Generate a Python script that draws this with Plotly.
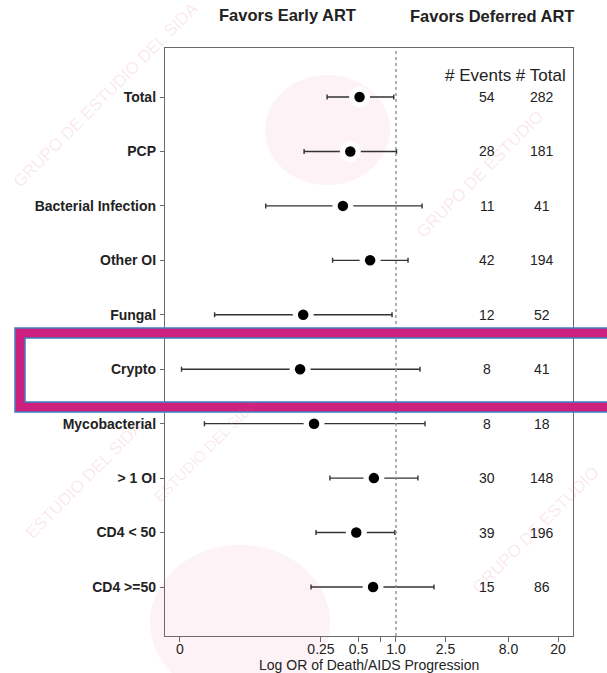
import math
import plotly.graph_objects as go

# Subgroups, top to bottom
subgroups = ["Total", "PCP", "Bacterial Infection", "Other OI", "Fungal", "Crypto",
             "Mycobacterial", "> 1 OI", "CD4 < 50", "CD4 >=50"]
odds_ratio = [0.51, 0.43, 0.375, 0.62, 0.18, 0.17, 0.22, 0.665, 0.48, 0.655]
ci_lower = [0.28, 0.183, 0.09, 0.31, 0.035, 0.019, 0.029, 0.295, 0.228, 0.208]
ci_upper = [0.96, 1.01, 1.62, 1.25, 0.93, 1.56, 1.71, 1.50, 0.98, 2.02]
n_events = [54, 28, 11, 42, 12, 8, 8, 30, 39, 15]
n_total = [282, 181, 41, 194, 52, 41, 18, 148, 196, 86]

# x-axis ticks (odds ratio on a log scale; "0" marks the far-left end)
tick_vals = [0.01845, 0.25, 0.5, 0.75, 1.0, 2.5, 8.0, 20.0]
tick_text = ["0", "0.25", "0.5", "", "1.0", "2.5", "8.0", "20"]

W, H = 607, 673
L, R, T, B = 165, 573, 48, 636
FONT = "Liberation Sans, Arial, sans-serif"
FRAME = "#6a6a6a"
WM = "rgba(225, 110, 140, 0.16)"


def px_x(p):
    return (p - L) / (R - L)


def px_y(p):
    return (B - p) / (B - T)


rows = list(range(len(subgroups)))

fig = go.Figure()

# confidence intervals with a white halo around each estimate
fig.add_trace(go.Scatter(
    x=odds_ratio, y=rows, mode="markers",
    marker=dict(size=21, color="white"),
    error_x=dict(type="data", symmetric=False,
                 array=[u - o for u, o in zip(ci_upper, odds_ratio)],
                 arrayminus=[o - l for o, l in zip(odds_ratio, ci_lower)],
                 color="#333333", thickness=1.4, width=2.5),
    hoverinfo="skip", showlegend=False,
))
fig.add_trace(go.Scatter(
    x=odds_ratio, y=rows, mode="markers",
    marker=dict(size=10.5, color="black"),
    showlegend=False,
))


def note(x, y, text, size, xref="paper", yref="paper", **kw):
    return dict(x=x, y=y, xref=xref, yref=yref, text=text, showarrow=False,
                xanchor=kw.pop("xanchor", "center"), yanchor=kw.pop("yanchor", "middle"),
                font=dict(family=FONT, size=size, color=kw.pop("color", "#222")), **kw)


annotations = []
# faint background watermark lettering
for (cx, cy, txt, sz) in [(105, 95, "GRUPO DE ESTUDIO DEL SIDA", 17),
                          (85, 480, "ESTUDIO DEL SIDA", 17),
                          (480, 175, "GRUPO DE ESTUDIO", 17),
                          (535, 530, "GRUPO DE ESTUDIO", 17),
                          (205, 450, "ESTUDIO DEL SIDA", 15)]:
    annotations.append(note(px_x(cx), px_y(cy), txt, sz, textangle=-45, color=WM))

# event and total counts
for i in rows:
    annotations.append(note(px_x(487), i, str(n_events[i]), 14, yref="y"))
    annotations.append(note(px_x(542), i, str(n_total[i]), 14, yref="y"))
annotations.append(note(px_x(505), px_y(75), "# Events # Total", 17))
# direction headers
annotations.append(note(px_x(287), px_y(15), "<b>Favors Early ART</b>", 16.5))
annotations.append(note(px_x(492), px_y(16), "<b>Favors Deferred ART</b>", 16.5))
# x-axis title
annotations.append(note(px_x(369), px_y(665), "Log OR of Death/AIDS Progression", 14))

shapes = [
    # faint logo discs in the background
    dict(type="circle", xref="paper", yref="paper", layer="below",
         x0=px_x(265), x1=px_x(390), y0=px_y(75), y1=px_y(185),
         fillcolor="rgba(235, 130, 160, 0.10)", line=dict(width=0)),
    dict(type="circle", xref="paper", yref="paper", layer="below",
         x0=px_x(150), x1=px_x(330), y0=px_y(545), y1=px_y(700),
         fillcolor="rgba(235, 130, 160, 0.10)", line=dict(width=0)),
    # reference line at OR = 1
    dict(type="line", xref="x", yref="paper", x0=1, x1=1, y0=0, y1=1,
         line=dict(color="#888888", width=1.3, dash="3px,3px")),
]

# highlight frame around the Crypto row
MAG = "#CC1F7E"
BLUE = "#3F7FC2"
shapes += [
    dict(type="rect", xref="paper", yref="paper",
         x0=px_x(20), x1=px_x(640), y0=px_y(333), y1=px_y(407),
         line=dict(color=MAG, width=10), layer="above"),
    dict(type="rect", xref="paper", yref="paper",
         x0=px_x(15), x1=px_x(645), y0=px_y(328), y1=px_y(412),
         line=dict(color=BLUE, width=1.5), layer="above"),
    dict(type="rect", xref="paper", yref="paper",
         x0=px_x(25), x1=px_x(635), y0=px_y(338), y1=px_y(402),
         line=dict(color=BLUE, width=1.5), layer="above"),
]

fig.update_layout(
    width=W, height=H,
    margin=dict(l=L, r=W - R, t=T, b=H - B),
    paper_bgcolor="white", plot_bgcolor="rgba(0,0,0,0)",
    font=dict(family=FONT, color="#222"),
    xaxis=dict(type="log", range=[math.log10(0.01845) - 0.12, math.log10(20) + 0.12],
               tickvals=tick_vals, ticktext=tick_text, automargin=False,
               ticks="outside", ticklen=5, tickcolor=FRAME, tickwidth=1,
               ticklabelstandoff=-5,
               tickfont=dict(family=FONT, size=14, color="#222"),
               showgrid=False, zeroline=False,
               showline=True, linecolor=FRAME, linewidth=1.3, mirror=True),
    yaxis=dict(range=[len(subgroups) - 0.1, -0.9], automargin=False,
               tickvals=rows, ticktext=[f"<b>{s}</b>" for s in subgroups],
               ticks="outside", ticklen=4, tickcolor=FRAME, tickwidth=1,
               ticklabelstandoff=1,
               tickfont=dict(family=FONT, size=14, color="#222"),
               showgrid=False, zeroline=False,
               showline=True, linecolor=FRAME, linewidth=1.3, mirror=True),
    annotations=annotations,
    shapes=shapes,
)

fig.write_html("out.html")
